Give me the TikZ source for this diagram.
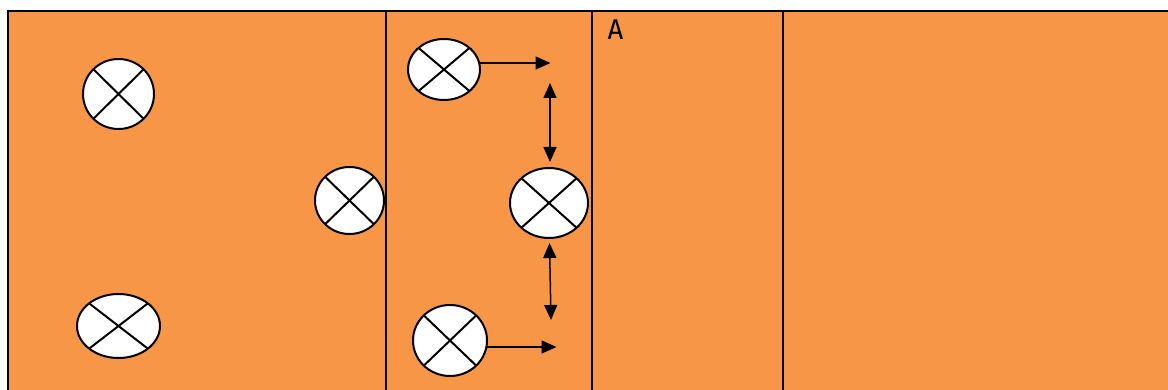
\documentclass[tikz,border=0pt]{standalone}
\usepackage{fontspec}
\newfontfamily\labelfont{DejaVu Sans Mono}
\usetikzlibrary{arrows.meta,shapes.geometric}
\definecolor{bgorange}{HTML}{F79646}
\begin{document}
\begin{tikzpicture}[x=1pt,y=-1pt,
  lamp/.style={draw, line width=2pt, fill=white, ellipse, inner sep=0pt, outer sep=0pt,
    path picture={\draw[line width=2pt]
      (path picture bounding box.north west) -- (path picture bounding box.south east)
      (path picture bounding box.north east) -- (path picture bounding box.south west);}},
  frame/.style={line width=2pt, draw=black},
  arr/.style={line width=1.5pt, -{Triangle[length=15pt,width=13pt]}},
  darr/.style={line width=1.5pt, {Triangle[length=15pt,width=13pt]}-{Triangle[length=15pt,width=13pt]}}
]
\useasboundingbox (0,0) rectangle (1168,390);
\fill[bgorange] (8,11.5) rectangle (1168,390);
\draw[frame] (8,390) -- (8,11.5) -- (1168,11.5);
\draw[frame] (386,11.5) -- (386,390);
\draw[frame] (592,11.5) -- (592,390);
\draw[frame] (782.5,11.5) -- (782.5,390);

\node[lamp, minimum width=71pt, minimum height=70pt] (e1) at (118.5,94) {};
\node[lamp, minimum width=69pt, minimum height=67pt] (e2) at (349.5,200.5) {};
\node[lamp, minimum width=83pt, minimum height=64pt] (e3) at (118.5,326) {};
\node[lamp, minimum width=72pt, minimum height=61pt] (e4) at (444,69.5) {};
\node[lamp, minimum width=78pt, minimum height=70pt] (e5) at (549,203) {};
\node[lamp, minimum width=74pt, minimum height=71pt] (e6) at (450,340.5) {};

\node[anchor=base, inner sep=0pt, font=\labelfont\fontsize{27}{32}\selectfont] (lblA) at (615.5,40) {A};

\coordinate (t1) at (550.5,63);
\coordinate (t2) at (556.5,347);
\coordinate (d1a) at (550,83);
\coordinate (d1b) at (550,162);
\coordinate (d2a) at (549.5,243);
\coordinate (d2b) at (551,320);

\draw[arr] (e4.east |- t1) -- (t1);
\draw[arr] (e6.east |- t2) -- (t2);
\draw[darr] (d1a) -- (d1b);
\draw[darr] (d2a) -- (d2b);
\end{tikzpicture}
\end{document}
